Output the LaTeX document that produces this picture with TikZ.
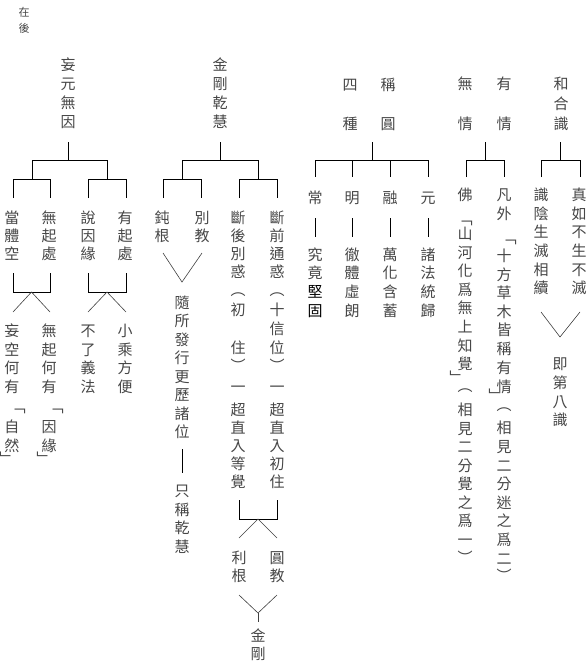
\documentclass[tikz,border=0pt]{standalone}
\usepackage{fontspec}
\newfontfamily\cjk{Noto Sans CJK TC}
\newcommand\vcol[3]{\foreach \ch/\yy [count=\i] in {#3}{\node[ch] (#1-\i) at (#2,\yy+5.7) {\ch};}}
\begin{document}
\begin{tikzpicture}[x=1pt,y=-1pt,
  ch/.style={anchor=base,inner sep=0pt,font=\cjk\fontsize{15}{15}\selectfont,text=black!72},
  pu/.style={anchor=center,inner sep=0pt,font=\cjk\fontsize{15}{15}\selectfont,text=black!72},
  small/.style={anchor=center,inner sep=0pt,font=\cjk\fontsize{11}{11}\selectfont,text=black!72},
  ln/.style={line width=0.9pt,black},
  thinln/.style={line width=0.6pt,black!75}]
\useasboundingbox (0,0) rectangle (587,661);
\fill[white] (0,0) rectangle (587,661);
% top-left note
\node[small] (n1) at (24,12) {在};
\node[small] (n2) at (24,28) {後};
% ---------- Group A ----------
\vcol{A}{561}{和/84,合/104,識/124}
\vcol{Aa}{541}{識/195,陰/214,生/232,滅/251,相/270,續/288}
\vcol{Ab}{579}{真/195,如/214,不/232,生/251,不/270,滅/288}
\vcol{Ac}{560}{即/364,第/383,八/402,識/420}
\coordinate (Ast) at (560,142);
\draw[ln] (Ast) -- (560,160);
\draw[ln] (541,177) -- (541,160) -- (580,160) -- (580,177);
\draw[thinln] (541,312) -- (560,337) -- (580,312);
% ---------- Group B ----------
\vcol{B}{504}{有/84,情/124}
\vcol{Bb}{465}{無/84,情/124}
\draw[ln] (485,142) -- (485,160);
\draw[ln] (466,177) -- (466,160) -- (504,160) -- (504,177);
\vcol{Bc}{465}{佛/195}
\vcol{Bd}{504}{凡/195,外/214}
\vcol{Be}{465}{山/234,河/253,化/271,爲/290,無/308,上/327,知/346,覺/364,相/410,見/429,二/447,分/466,覺/484,之/503,爲/521,一/540}
\node[pu] (Bp1) at (465,223) {﹁};
\node[pu] (Bp2) at (457,377) {﹂};
\node[pu] (Bp3) at (465,391) {︵};
\node[pu] (Bp4) at (465,557) {︶};
\vcol{Bf}{504}{十/256,方/275,草/293,木/312,皆/330,稱/349,有/368,情/387,相/428,見/447,二/466,分/484,迷/503,之/521,爲/540,二/559}
\node[pu] (Bq1) at (509,242) {﹁};
\node[pu] (Bq2) at (496,395) {﹂};
\node[pu] (Bq3) at (504,410) {︵};
\node[pu] (Bq4) at (504,575) {︶};
% ---------- Group C ----------
\vcol{C}{350}{四/85,種/124}
\vcol{Cb}{388}{稱/85,圓/124}
\draw[ln] (372,142) -- (372,160);
\draw[ln] (315,160) -- (428,160);
\foreach \xx in {315,352,390,428}{\draw[ln] (\xx,160) -- (\xx,177); \draw[ln] (\xx,218) -- (\xx,237);}
\vcol{Cc}{315}{常/198,究/255,竟/273}
\node[ch,text=black] (Cc-4) at (315,292+5.7) {堅};
\node[ch,text=black] (Cc-5) at (315,311+5.7) {固};
\vcol{Cd}{352}{明/198,徹/255,體/273,虛/292,朗/311}
\vcol{Ce}{390}{融/198,萬/255,化/273,含/292,蓄/311}
\vcol{Cf}{428}{元/198,諸/255,法/273,統/292,歸/311}
% ---------- Group D ----------
\vcol{D}{220}{金/65,剛/84,乾/103,慧/122}
\draw[ln] (220,142) -- (220,160);
\draw[ln] (182,179) -- (182,160) -- (258,160) -- (258,179);
\draw[ln] (163,198) -- (163,179) -- (201,179) -- (201,198);
\draw[ln] (239,198) -- (239,179) -- (277,179) -- (277,198);
\vcol{Da}{162}{鈍/218,根/236}
\vcol{Db}{202}{別/218,教/236}
\draw[thinln] (163,253) -- (182,282) -- (202,253);
\vcol{Dc}{182}{隨/303,所/321,發/340,行/358,更/377,歷/395,諸/414,位/432}
\draw[ln] (182,449) -- (182,473);
\vcol{Dd}{182}{只/491,稱/510,乾/528,慧/547}
\vcol{De}{238}{斷/218,後/236,別/254,惑/272,初/310,住/348,一/387,超/410,直/428,入/446,等/464,覺/482}
\node[pu] (Dp1) at (238,295) {︵};
\node[pu] (Dp2) at (238,365) {︶};
\vcol{Df}{277}{斷/218,前/236,通/254,惑/272,十/310,信/329,位/348,一/387,超/410,直/428,入/446,初/464,住/482}
\node[pu] (Dq1) at (277,295) {︵};
\node[pu] (Dq2) at (277,365) {︶};
\draw[ln] (239,500) -- (239,519) -- (277,519) -- (277,500);
\draw[thinln] (239,538) -- (258,519) -- (277,538);
\vcol{Dg}{239}{利/558,根/576}
\vcol{Dh}{277}{圓/558,教/576}
\draw[thinln] (239,595) -- (258,613) -- (277,595);
\draw[thinln] (258,613) -- (258,622);
\vcol{Di}{258}{金/636,剛/654}
% ---------- Group E ----------
\vcol{E}{68}{妄/65,元/84,無/103,因/122}
\draw[ln] (68,142) -- (68,160);
\draw[ln] (32,179) -- (32,160) -- (107,160) -- (107,179);
\draw[ln] (13,198) -- (13,179) -- (50,179) -- (50,198);
\draw[ln] (88,198) -- (88,179) -- (126,179) -- (126,198);
\vcol{Ea}{12}{當/218,體/236,空/254}
\vcol{Eb}{49}{無/218,起/236,處/254}
\vcol{Ec}{88}{說/218,因/236,緣/254}
\vcol{Ed}{125}{有/218,起/236,處/254}
\draw[ln] (13,273) -- (13,292) -- (50,292) -- (50,273);
\draw[thinln] (13,312) -- (31.5,292) -- (50,312);
\draw[ln] (88,273) -- (88,292) -- (126,292) -- (126,273);
\draw[thinln] (88,312) -- (107,292) -- (126,312);
\vcol{Ee}{12}{妄/331,空/350,何/368,有/387,自/427,然/446}
\vcol{Ef}{49}{無/331,起/350,何/368,有/387,因/427,緣/446}
\vcol{Eg}{88}{不/331,了/350,義/368,法/387}
\vcol{Eh}{125}{小/331,乘/350,方/368,便/387}
\node[pu] (Ep1) at (18,411) {﹁};
\node[pu] (Ep2) at (7,458) {﹂};
\node[pu] (Eq1) at (56,411) {﹁};
\node[pu] (Eq2) at (44,458) {﹂};
\end{tikzpicture}
\end{document}
